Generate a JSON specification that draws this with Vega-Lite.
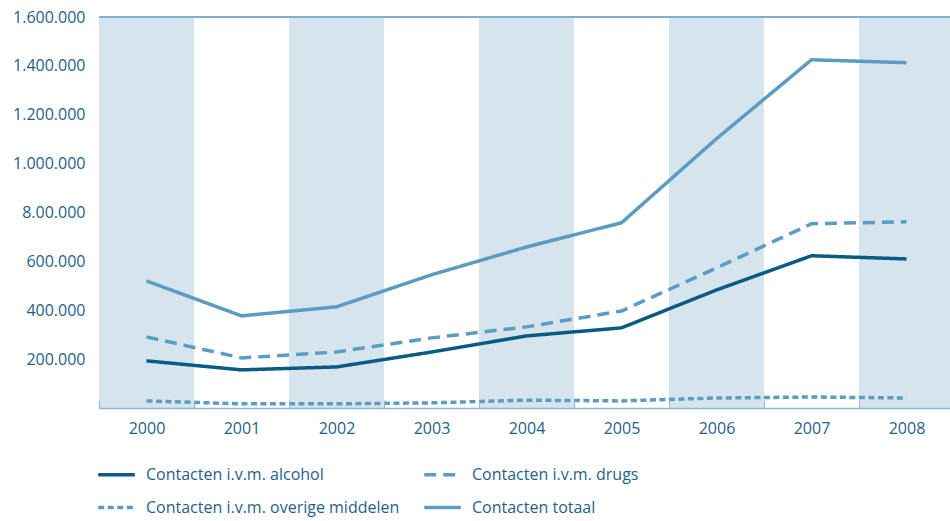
{
  "$schema": "https://vega.github.io/schema/vega-lite/v6.json",
  "width": 851,
  "height": 391,
  "autosize": "none",
  "padding": {"left": 99, "top": 17, "right": 0, "bottom": 113},
  "background": "white",
  "config": {
    "view": {"stroke": null},
    "font": "Open Sans",
    "axis": {"labelFont": "Open Sans", "labelFontSize": 16, "labelColor": "#1f5f8b", "title": null, "grid": false},
    "legend": {"labelFont": "Open Sans", "labelFontSize": 16, "labelColor": "#1f5f8b", "padding": 0}
  },
  "datasets": {
    "years": [
      {"year": "2000"}, {"year": "2001"}, {"year": "2002"}, {"year": "2003"}, {"year": "2004"},
      {"year": "2005"}, {"year": "2006"}, {"year": "2007"}, {"year": "2008"}
    ],
    "series": [
      {"year": "2000", "serie": "Contacten i.v.m. alcohol", "value": 193000},
      {"year": "2001", "serie": "Contacten i.v.m. alcohol", "value": 156000},
      {"year": "2002", "serie": "Contacten i.v.m. alcohol", "value": 168000},
      {"year": "2003", "serie": "Contacten i.v.m. alcohol", "value": 229000},
      {"year": "2004", "serie": "Contacten i.v.m. alcohol", "value": 295000},
      {"year": "2005", "serie": "Contacten i.v.m. alcohol", "value": 328000},
      {"year": "2006", "serie": "Contacten i.v.m. alcohol", "value": 483000},
      {"year": "2007", "serie": "Contacten i.v.m. alcohol", "value": 623000},
      {"year": "2008", "serie": "Contacten i.v.m. alcohol", "value": 610000},
      {"year": "2000", "serie": "Contacten i.v.m. drugs", "value": 291000},
      {"year": "2001", "serie": "Contacten i.v.m. drugs", "value": 205000},
      {"year": "2002", "serie": "Contacten i.v.m. drugs", "value": 229000},
      {"year": "2003", "serie": "Contacten i.v.m. drugs", "value": 287000},
      {"year": "2004", "serie": "Contacten i.v.m. drugs", "value": 332000},
      {"year": "2005", "serie": "Contacten i.v.m. drugs", "value": 397000},
      {"year": "2006", "serie": "Contacten i.v.m. drugs", "value": 573000},
      {"year": "2007", "serie": "Contacten i.v.m. drugs", "value": 754000},
      {"year": "2008", "serie": "Contacten i.v.m. drugs", "value": 762000},
      {"year": "2000", "serie": "Contacten i.v.m. overige middelen", "value": 29000},
      {"year": "2001", "serie": "Contacten i.v.m. overige middelen", "value": 17000},
      {"year": "2002", "serie": "Contacten i.v.m. overige middelen", "value": 17000},
      {"year": "2003", "serie": "Contacten i.v.m. overige middelen", "value": 21000},
      {"year": "2004", "serie": "Contacten i.v.m. overige middelen", "value": 32000},
      {"year": "2005", "serie": "Contacten i.v.m. overige middelen", "value": 29000},
      {"year": "2006", "serie": "Contacten i.v.m. overige middelen", "value": 41000},
      {"year": "2007", "serie": "Contacten i.v.m. overige middelen", "value": 45000},
      {"year": "2008", "serie": "Contacten i.v.m. overige middelen", "value": 41000},
      {"year": "2000", "serie": "Contacten totaal", "value": 520000},
      {"year": "2001", "serie": "Contacten totaal", "value": 377000},
      {"year": "2002", "serie": "Contacten totaal", "value": 414000},
      {"year": "2003", "serie": "Contacten totaal", "value": 545000},
      {"year": "2004", "serie": "Contacten totaal", "value": 659000},
      {"year": "2005", "serie": "Contacten totaal", "value": 758000},
      {"year": "2006", "serie": "Contacten totaal", "value": 1102000},
      {"year": "2007", "serie": "Contacten totaal", "value": 1425000},
      {"year": "2008", "serie": "Contacten totaal", "value": 1413000}
    ]
  },
  "layer": [
    {
      "data": {"name": "years"},
      "transform": [{"filter": "toNumber(datum.year) % 2 == 0"}],
      "mark": {"type": "rect", "color": "#d6e4ee"},
      "encoding": {
        "x": {
          "field": "year", "type": "ordinal",
          "scale": {"paddingInner": 0, "paddingOuter": 0, "range": [0, 855]},
          "axis": {
            "orient": "bottom", "labelAngle": 0, "domainColor": "#8fb8d3", "domainWidth": 1.5,
            "tickBand": "extent", "tickColor": "#8fb8d3", "tickWidth": 1, "tickSize": -8,
            "labelPadding": 20
          }
        }
      }
    },
    {
      "data": {"name": "years"},
      "mark": {"type": "rule", "color": "#7fafce", "strokeWidth": 1.5},
      "encoding": {"y": {"datum": 1600000, "type": "quantitative"}}
    },
    {
      "data": {"name": "series"},
      "mark": {"type": "line", "strokeWidth": 3.5},
      "encoding": {
        "x": {"field": "year", "type": "ordinal"},
        "y": {
          "field": "value", "type": "quantitative",
          "scale": {"domain": [0, 1600000], "nice": false, "zero": true},
          "axis": {
            "values": [200000, 400000, 600000, 800000, 1000000, 1200000, 1400000, 1600000],
            "labelExpr": "datum.value == 800000 ? '8.00.000' : replace(replace(format(datum.value, ','), ',', '.'), ',', '.')",
            "domain": false, "tickColor": "#8fb8d3", "tickWidth": 1.5, "tickSize": -14, "labelPadding": 28
          }
        },
        "color": {
          "field": "serie", "type": "nominal",
          "scale": {
            "domain": ["Contacten i.v.m. alcohol", "Contacten i.v.m. drugs", "Contacten i.v.m. overige middelen", "Contacten totaal"],
            "range": ["#0a5a84", "#5b9cc0", "#5b9cc0", "#5b9cc0"]
          },
          "legend": {
            "title": null, "orient": "none", "legendX": -1, "legendY": 439, "columns": 2,
            "direction": "horizontal",
            "symbolType": "M-1.1,0H1.1", "symbolSize": 1100, "symbolStrokeWidth": 3.5,
            "labelOffset": 11, "columnPadding": 17, "rowPadding": 6, "labelLimit": 400
          }
        },
        "strokeDash": {
          "field": "serie", "type": "nominal",
          "scale": {
            "domain": ["Contacten i.v.m. alcohol", "Contacten i.v.m. drugs", "Contacten i.v.m. overige middelen", "Contacten totaal"],
            "range": [[1, 0], [12, 7], [6, 3.5], [1, 0]]
          },
          "legend": {
            "title": null, "orient": "none", "legendX": -1, "legendY": 439, "columns": 2,
            "direction": "horizontal",
            "symbolType": "M-1.1,0H1.1", "symbolSize": 1100, "symbolStrokeWidth": 3.5,
            "labelOffset": 11, "columnPadding": 17, "rowPadding": 6, "labelLimit": 400
          }
        }
      }
    }
  ]
}
